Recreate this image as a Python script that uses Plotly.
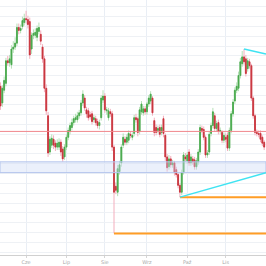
import numpy as np
import pandas as pd
import plotly.graph_objects as go

# ---- data (price units) ----
dates = pd.bdate_range("2022-05-12", "2022-11-30")

open_ = [172,155,168,175,198,196,194,210,212,216,232,229,233,237,241,240,238,210,224,224,
         222,228,225,212,200,170,142,105,112,118,114,110,110,115,108,100,110,120,126,130,
         135,138,138,142,145,155,160,148,147,143,144,138,139,136,132,140,158,162,147,140,
         146,144,110,70,64,85,94,112,118,115,117,123,120,124,140,139,126,146,145,149,
         146,154,157,160,137,130,127,130,125,139,122,100,90,98,92,94,87,82,71,64,
         84,100,96,105,94,98,97,90,95,105,129,128,120,102,105,124,132,142,129,135,
         126,125,117,120,122,109,127,144,157,168,170,183,195,202,200,190,197,193,160,142,
         125,124,124,120,115]
high_ = [176,173,182,201,203,204,214,218,222,236,236,235,243,246,249,244,242,227,230,231,
         234,237,229,215,203,174,146,121,123,122,117,118,119,118,111,113,123,130,135,139,
         142,144,146,148,158,168,163,151,150,146,147,143,142,139,138,163,168,165,151,150,
         149,147,112,74,92,96,113,124,121,123,127,126,125,143,144,141,151,157,152,152,
         156,163,167,162,140,133,132,133,133,142,124,103,102,101,97,96,90,84,73,87,
         105,104,105,108,103,101,100,99,108,133,132,131,122,107,126,135,150,145,137,138,
         130,127,125,124,125,130,147,159,171,176,187,201,208,210,204,201,200,195,162,144,
         128,127,127,122,117]
low_ = [148,151,165,172,193,192,190,206,209,213,225,226,230,234,236,231,200,205,220,221,
        218,225,214,196,166,143,100,102,109,108,106,107,107,101,95,97,107,117,123,127,
        132,135,135,139,142,152,147,140,137,138,133,135,132,129,128,137,155,145,143,137,
        141,106,22,62,60,82,90,109,112,112,114,119,117,121,135,121,123,143,142,143,
        143,151,154,142,121,122,124,120,122,120,96,85,87,89,89,81,79,68,59,61,
        82,95,93,91,91,92,87,87,92,102,124,117,99,99,102,121,129,126,126,123,
        123,114,114,115,106,106,124,141,154,165,167,180,192,194,182,187,190,157,139,122,
        121,120,115,111,107]
close_ = [152,170,178,198,196,200,210,212,216,232,229,231,239,241,240,235,204,224,226,227,
          231,232,218,200,170,147,104,118,119,112,110,114,115,105,98,110,120,127,132,135,
          139,140,142,145,155,164,150,144,140,141,136,140,135,132,135,160,162,148,148,147,
          144,110,64,66,88,92,110,120,115,120,124,122,122,140,138,125,148,154,149,146,
          154,160,164,145,125,125,129,123,130,124,100,89,98,92,94,84,82,71,64,84,
          102,98,102,94,100,95,90,96,105,130,127,120,102,104,123,132,146,129,134,126,
          127,117,122,118,109,127,144,156,168,172,183,197,202,197,185,198,193,160,142,125,
          124,123,118,114,110]

month_ticks = ["2022-06-01", "2022-07-01", "2022-08-01", "2022-09-01",
               "2022-10-03", "2022-11-01", "2022-12-01"]
month_labels = ["Cze", "Lip", "Sie", "Wrz", "Paź", "Lis", "Gru"]

pivot_level = 126
demand_zone = [84, 95]
support_idx = [62, 98]          # candles whose lows anchor the horizontal supports
resistance_idx = 133            # candle whose high anchors the falling trendline
resistance_end = 205
support_trend_idx = 98
support_trend_end = 84
view_start, view_end = "2022-05-11 18:00", "2022-12-01"

assert len(open_) == len(high_) == len(low_) == len(close_) == len(dates)

o = np.array(open_); c = np.array(close_)
body_hi = np.maximum(o, c); body_lo = np.minimum(o, c)

GREEN, RED = "#47a84b", "#c8323a"
fig = go.Figure()
# pivot line underneath candles
fig.add_trace(go.Scatter(x=[view_start, view_end], y=[pivot_level, pivot_level], mode="lines",
                         line=dict(color="rgb(240,135,140)", width=1), hoverinfo="skip", showlegend=False))
# wicks
fig.add_trace(go.Candlestick(
    x=dates, open=open_, high=high_, low=low_, close=close_,
    increasing=dict(line=dict(color="#b5e0b7", width=1), fillcolor="rgba(0,0,0,0)"),
    decreasing=dict(line=dict(color="#f3aebd", width=1), fillcolor="rgba(0,0,0,0)"),
    hoverinfo="skip", showlegend=False))
# bodies
fig.add_trace(go.Candlestick(
    x=dates, open=open_, high=body_hi, low=body_lo, close=close_,
    increasing=dict(line=dict(color=GREEN, width=0.8), fillcolor=GREEN),
    decreasing=dict(line=dict(color=RED, width=0.8), fillcolor=RED),
    showlegend=False))

shapes = []
shapes.append(dict(type="rect", xref="paper", x0=0, x1=1, y0=demand_zone[0], y1=demand_zone[1],
                   fillcolor="rgba(205,218,246,0.4)", line=dict(color="#b3c4ec", width=1), layer="above"))
for i in support_idx:
    shapes.append(dict(type="line", x0=dates[i], x1=view_end, y0=low_[i], y1=low_[i],
                       line=dict(color="#ff9d26", width=2)))
shapes.append(dict(type="line", x0=dates[resistance_idx], x1=view_end,
                   y0=high_[resistance_idx], y1=resistance_end,
                   line=dict(color="#3fe3f2", width=1.5)))
shapes.append(dict(type="line", x0=dates[support_trend_idx], x1=view_end,
                   y0=low_[support_trend_idx], y1=support_trend_end,
                   line=dict(color="#3fe3f2", width=1.5)))

fig.update_layout(
    width=266, height=266,
    margin=dict(l=0, r=0, t=0, b=6),
    paper_bgcolor="white", plot_bgcolor="white",
    showlegend=False, shapes=shapes,
    xaxis=dict(type="date", range=[view_start, view_end],
               rangebreaks=[dict(bounds=["sat", "mon"])],
               rangeslider=dict(visible=False),
               tickvals=month_ticks, ticktext=month_labels,
               tickfont=dict(size=5, color="#a8a8a8", family="DejaVu Sans"),
               ticks="outside", ticklen=2, tickcolor="#d5d5d5",
               showgrid=True, gridcolor="#e9eef5", gridwidth=1,
               showline=True, linecolor="#d0d0d0", linewidth=1, zeroline=False,
               showspikes=False),
    yaxis=dict(range=[0, 260], tick0=3, dtick=10, showticklabels=False,
               showgrid=True, gridcolor="#eef1f5", gridwidth=1, zeroline=False,
               showspikes=False),
    hovermode=False,
)

fig.write_html("out.html")
